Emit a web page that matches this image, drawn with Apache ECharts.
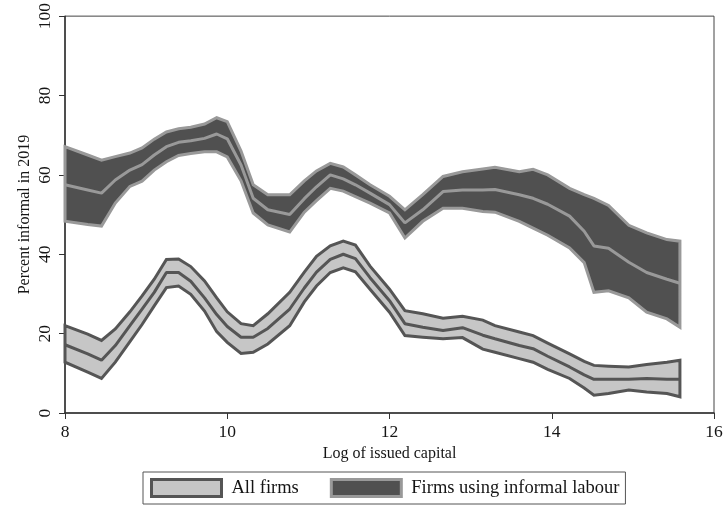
<!DOCTYPE html>
<html>
<head>
<meta charset="utf-8">
<script src="https://cdn.jsdelivr.net/npm/echarts@6/dist/echarts.min.js"></script>
<style>
html,body{margin:0;padding:0;background:#fff;}
#chart{width:726px;height:506px;}
</style>
</head>
<body>
<div id="chart"></div>
<script>
// Log of issued capital (x positions of estimates)
const xs = [8.0, 8.28, 8.45, 8.62, 8.8, 8.95, 9.1, 9.25, 9.4, 9.55, 9.72, 9.87, 10.0, 10.17, 10.32, 10.5, 10.77, 10.95, 11.1, 11.27, 11.43, 11.58, 11.76, 12.0, 12.19, 12.41, 12.66, 12.9, 13.15, 13.3, 13.6, 13.77, 13.95, 14.22, 14.4, 14.52, 14.7, 14.95, 15.17, 15.42, 15.58];

// Firms using informal labour
const informalHi = [67.1, 65.0, 63.7, 64.6, 65.5, 66.8, 69.0, 70.8, 71.6, 72.0, 72.8, 74.4, 73.4, 66.0, 57.5, 55.0, 55.0, 58.5, 61.0, 62.9, 62.0, 60.0, 57.5, 54.6, 51.2, 55.0, 59.6, 60.8, 61.5, 61.9, 60.8, 61.4, 60.0, 56.6, 55.0, 54.1, 52.3, 47.3, 45.4, 43.7, 43.3];
const informalMid = [57.5, 56.2, 55.4, 58.7, 61.2, 62.6, 65.0, 67.1, 68.2, 68.6, 69.2, 70.3, 69.1, 62.5, 54.1, 51.2, 50.0, 54.0, 57.0, 60.0, 59.0, 57.5, 55.4, 52.5, 47.9, 51.2, 55.8, 56.2, 56.2, 56.3, 55.0, 54.1, 52.6, 49.6, 45.8, 42.1, 41.5, 38.0, 35.4, 33.7, 32.7];
const informalLo = [48.3, 47.5, 47.1, 52.9, 57.1, 58.4, 61.2, 63.3, 64.9, 65.4, 65.8, 65.8, 64.5, 58.5, 50.4, 47.4, 45.6, 50.6, 53.5, 56.6, 55.9, 54.5, 52.9, 50.4, 44.1, 48.3, 51.6, 51.6, 50.8, 50.6, 48.3, 46.6, 44.8, 41.6, 37.9, 30.4, 30.8, 29.0, 25.4, 23.7, 21.6];

// All firms
const allHi = [22.0, 19.9, 18.3, 21.2, 25.5, 29.5, 33.7, 38.7, 38.8, 36.9, 33.3, 29.0, 25.5, 22.5, 22.0, 25.0, 30.4, 35.5, 39.5, 42.1, 43.3, 42.3, 37.0, 31.2, 25.8, 25.0, 23.9, 24.4, 23.4, 22.0, 20.4, 19.5, 17.6, 14.9, 13.0, 12.0, 11.8, 11.6, 12.2, 12.8, 13.3];
const allMid = [17.2, 14.9, 13.3, 17.0, 22.0, 26.2, 30.4, 35.4, 35.4, 33.2, 29.0, 24.8, 21.8, 19.1, 19.1, 21.3, 26.2, 31.5, 35.5, 38.7, 40.0, 38.9, 34.1, 28.3, 22.5, 21.6, 20.8, 21.5, 19.6, 18.7, 17.0, 16.2, 14.3, 11.6, 9.6, 8.5, 8.5, 8.5, 8.7, 8.5, 8.5];
const allLo = [12.8, 10.3, 8.7, 12.8, 18.0, 22.3, 27.0, 31.6, 32.0, 29.9, 25.7, 20.5, 17.8, 15.0, 15.3, 17.4, 22.0, 28.0, 32.0, 35.4, 36.6, 35.6, 31.2, 25.4, 19.5, 19.1, 18.7, 19.0, 16.1, 15.3, 13.7, 12.8, 11.0, 8.7, 6.3, 4.5, 4.9, 5.8, 5.3, 4.9, 4.1];

const xTicks = [8, 10, 12, 14, 16];
const yTicks = [0, 20, 40, 60, 80, 100];

const FONT = '"Liberation Serif", "DejaVu Serif", serif';
const TXT = '#151515';
const DARK_FILL = '#505050', LIGHT_EDGE = '#999999';
const LIGHT_FILL = '#c6c6c6', DARK_EDGE = '#555555';

function bandSeries(name, lo, hi, fill, edge) {
  return {
    name: name,
    type: 'custom',
    coordinateSystem: 'cartesian2d',
    data: xs.map((x, i) => [x, lo[i], hi[i]]),
    encode: { x: 0, y: [1, 2] },
    renderItem: function (params, api) {
      if (params.dataIndex !== 0) return;
      const pts = [];
      for (let i = 0; i < xs.length; i++) pts.push(api.coord([xs[i], hi[i]]));
      for (let i = xs.length - 1; i >= 0; i--) pts.push(api.coord([xs[i], lo[i]]));
      return {
        type: 'polygon',
        shape: { points: pts },
        style: { fill: fill, stroke: edge, lineWidth: 3, lineJoin: 'miter' }
      };
    },
    itemStyle: { color: fill, borderColor: edge, borderWidth: 3 },
    silent: true,
    z: 2
  };
}

function midSeries(name, mid, edge) {
  return {
    name: name,
    type: 'line',
    data: xs.map((x, i) => [x, mid[i]]),
    showSymbol: false,
    symbol: 'none',
    lineStyle: { color: edge, width: 3 },
    silent: true,
    z: 3
  };
}

const chart = echarts.init(document.getElementById('chart'), null, { renderer: 'canvas' });
chart.setOption({
  animation: false,
  backgroundColor: '#ffffff',
  grid: { left: 65, right: 12, top: 14, bottom: 93, show: true, borderColor: '#444', borderWidth: 1 },
  xAxis: {
    type: 'value', min: xTicks[0], max: xTicks[xTicks.length - 1], interval: 2,
    name: 'Log of issued capital', nameLocation: 'middle', nameGap: 33, nameMoveOverlap: false,
    nameTextStyle: { fontFamily: FONT, fontSize: 16, color: TXT },
    axisLine: { show: true, lineStyle: { color: '#333', width: 1.5 } },
    axisTick: { show: true, inside: false, length: 6, lineStyle: { color: '#333', width: 1 } },
    axisLabel: { fontFamily: FONT, fontSize: 17.5, color: TXT, margin: 10 },
    splitLine: { show: false }
  },
  yAxis: {
    type: 'value', min: yTicks[0], max: yTicks[yTicks.length - 1], interval: 20,
    name: 'Percent informal in 2019', nameLocation: 'middle', nameGap: 32, nameMoveOverlap: false,
    nameTextStyle: { fontFamily: FONT, fontSize: 16, color: TXT },
    axisLine: { show: true, lineStyle: { color: '#333', width: 1.5 } },
    axisTick: { show: true, inside: false, length: 6, lineStyle: { color: '#333', width: 1 } },
    axisLabel: { fontFamily: FONT, fontSize: 17.5, color: TXT, rotate: 90, margin: 11 },
    splitLine: { show: false }
  },
  legend: {
    left: 143, top: 472,
    orient: 'horizontal',
    padding: [6, 6, 6, 7],
    borderColor: '#555', borderWidth: 1,
    itemWidth: 70, itemHeight: 17, itemGap: 31,
    textStyle: { fontFamily: FONT, fontSize: 18.5, color: TXT, padding: [0, 0, 0, 5] },
    data: [
      { name: 'All firms', icon: 'rect', itemStyle: { color: LIGHT_FILL, borderColor: DARK_EDGE, borderWidth: 3 } },
      { name: 'Firms using informal labour', icon: 'rect', itemStyle: { color: DARK_FILL, borderColor: LIGHT_EDGE, borderWidth: 3 } }
    ]
  },
  series: [
    bandSeries('Firms using informal labour', informalLo, informalHi, DARK_FILL, LIGHT_EDGE),
    midSeries('informal-mid', informalMid, LIGHT_EDGE),
    bandSeries('All firms', allLo, allHi, LIGHT_FILL, DARK_EDGE),
    midSeries('all-mid', allMid, DARK_EDGE)
  ]
});
</script>
</body>
</html>
